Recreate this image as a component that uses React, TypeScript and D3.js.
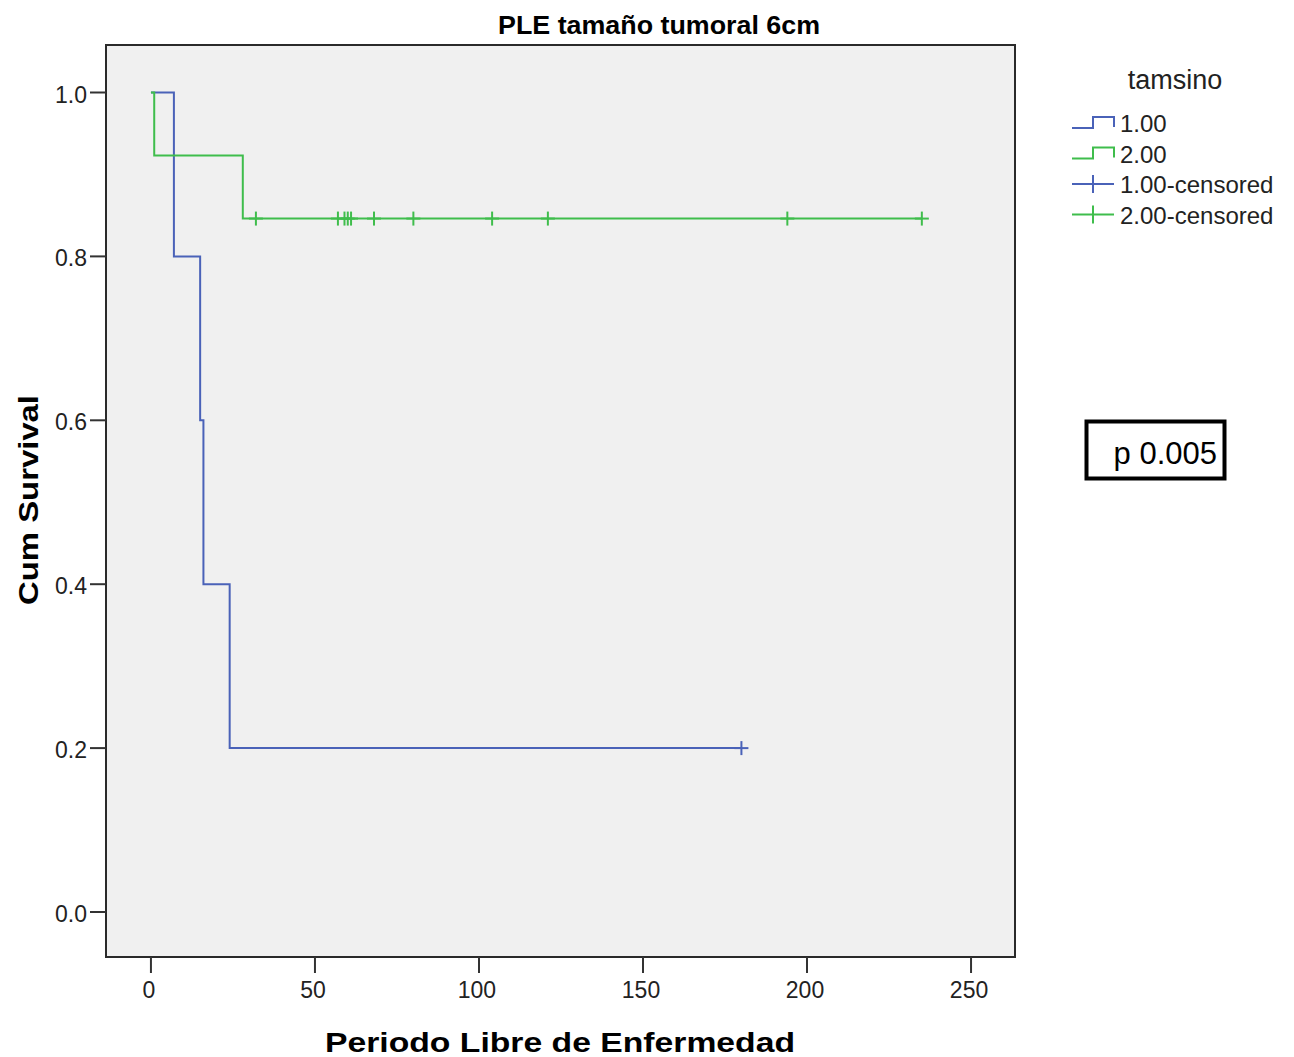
import React from "react";
import * as d3 from "d3";

const title = "PLE tamaño tumoral 6cm";
const xLabel = "Periodo Libre de Enfermedad";
const yLabel = "Cum Survival";
const legendTitle = "tamsino";
const groups = ["1.00", "2.00"];
const groupColors = ["#4a62b8", "#3fbd4c"];
// survival times (months) and status (1 = event, 0 = censored)
const times1 = [7, 15, 16, 24, 180];
const status1 = [1, 1, 1, 1, 0];
const times2 = [1, 28, 32, 57, 59, 60, 61, 68, 80, 104, 121, 194, 235];
const status2 = [1, 1, 0, 0, 0, 0, 0, 0, 0, 0, 0, 0, 0];
const xTicks = [0, 50, 100, 150, 200, 250];
const yTicks = [0, 0.2, 0.4, 0.6, 0.8, 1.0];
const pText = "p 0.005";

function km(times: number[], status: number[]) {
  const idx = times.map((t, i) => i).sort((a, b) => times[a] - times[b]);
  let n = times.length;
  let s = 1;
  const steps: [number, number][] = [[0, 1]];
  const cens: [number, number][] = [];
  let i = 0;
  while (i < idx.length) {
    const t = times[idx[i]];
    let d = 0, c = 0;
    while (i < idx.length && times[idx[i]] === t) {
      if (status[idx[i]] === 1) d++; else c++;
      i++;
    }
    if (d > 0) {
      steps.push([t, s]);
      s = s * (1 - d / n);
      steps.push([t, s]);
    }
    if (c > 0) cens.push([t, s]);
    n -= d + c;
  }
  const last = Math.max(...times);
  steps.push([last, s]);
  return { steps, cens };
}

export default function App() {
  const W = 1294, H = 1057;
  const left = 106, right = 1015, top = 45, bottom = 957;
  const x = d3.scaleLinear().domain([-13.7, 263.4]).range([left, right]);
  const y = d3.scaleLinear().domain([0, 1]).range([912, 92.5]);
  const line = d3.line<[number, number]>().x(d => x(d[0])).y(d => y(d[1]));
  const curves = [km(times1, status1), km(times2, status2)];
  const font = "'Liberation Sans', Arial, sans-serif";
  const legendRows = [
    { label: "1.00", type: "step", color: groupColors[0] },
    { label: "2.00", type: "step", color: groupColors[1] },
    { label: "1.00-censored", type: "cens", color: groupColors[0] },
    { label: "2.00-censored", type: "cens", color: groupColors[1] },
  ];
  return (
    <svg width={W} height={H} style={{ position: "absolute", left: 0, top: 0, background: "#fff" }} fontFamily={font}>
      <rect x={left} y={top} width={right - left} height={bottom - top} fill="#f0f0f0" stroke="#2a2a2a" strokeWidth={2} />
      <text x={659} y={34} textAnchor="middle" fontSize={26} fontWeight="bold" textLength={322} lengthAdjust="spacingAndGlyphs">{title}</text>
      {yTicks.map(t => (
        <g key={t}>
          <line x1={90} x2={left} y1={y(t)} y2={y(t)} stroke="#333" strokeWidth={2} />
          <text x={87} y={y(t) + 10} textAnchor="end" fontSize={23} fill="#222">{t.toFixed(1)}</text>
        </g>
      ))}
      {xTicks.map(t => (
        <g key={t}>
          <line x1={x(t)} x2={x(t)} y1={bottom} y2={973} stroke="#333" strokeWidth={2} />
          <text x={x(t) - 2} y={998} textAnchor="middle" fontSize={23} fill="#222">{t}</text>
        </g>
      ))}
      <text x={560} y={1052} textAnchor="middle" fontSize={28} fontWeight="bold" textLength={470} lengthAdjust="spacingAndGlyphs">{xLabel}</text>
      <text transform="translate(38,500) rotate(-90)" textAnchor="middle" fontSize={28} fontWeight="bold" textLength={210} lengthAdjust="spacingAndGlyphs">{yLabel}</text>
      {curves.map((c, gi) => (
        <g key={gi}>
          <path d={line(c.steps) || ""} fill="none" stroke={groupColors[gi]} strokeWidth={2} />
          {c.cens.map((p, j) => (
            <g key={j} stroke={groupColors[gi]} strokeWidth={2}>
              <line x1={x(p[0])} x2={x(p[0])} y1={y(p[1]) - 7} y2={y(p[1]) + 7} />
              <line x1={x(p[0]) - 7} x2={x(p[0]) + 7} y1={y(p[1])} y2={y(p[1])} />
            </g>
          ))}
        </g>
      ))}
      <text x={1175} y={89} textAnchor="middle" fontSize={27} fill="#222">{legendTitle}</text>
      {legendRows.map((r, i) => {
        const cy = 123 + i * 30.5;
        return (
          <g key={r.label}>
            {r.type === "step" ? (
              <path d={`M1072,${cy + 5}H1093V${cy - 6}H1114V${cy + 4}`} fill="none" stroke={r.color} strokeWidth={2} />
            ) : (
              <g stroke={r.color} strokeWidth={2}>
                <line x1={1072} x2={1114} y1={cy} y2={cy} />
                <line x1={1093} x2={1093} y1={cy - 9} y2={cy + 9} />
              </g>
            )}
            <text x={1120} y={cy + 9} fontSize={24} fill="#222">{r.label}</text>
          </g>
        );
      })}
      <rect x={1086.5} y={421.5} width={138} height={57} fill="#fff" stroke="#000" strokeWidth={4} />
      <text x={1217} y={464} textAnchor="end" fontSize={31} fill="#000">{pText}</text>
    </svg>
  );
}
